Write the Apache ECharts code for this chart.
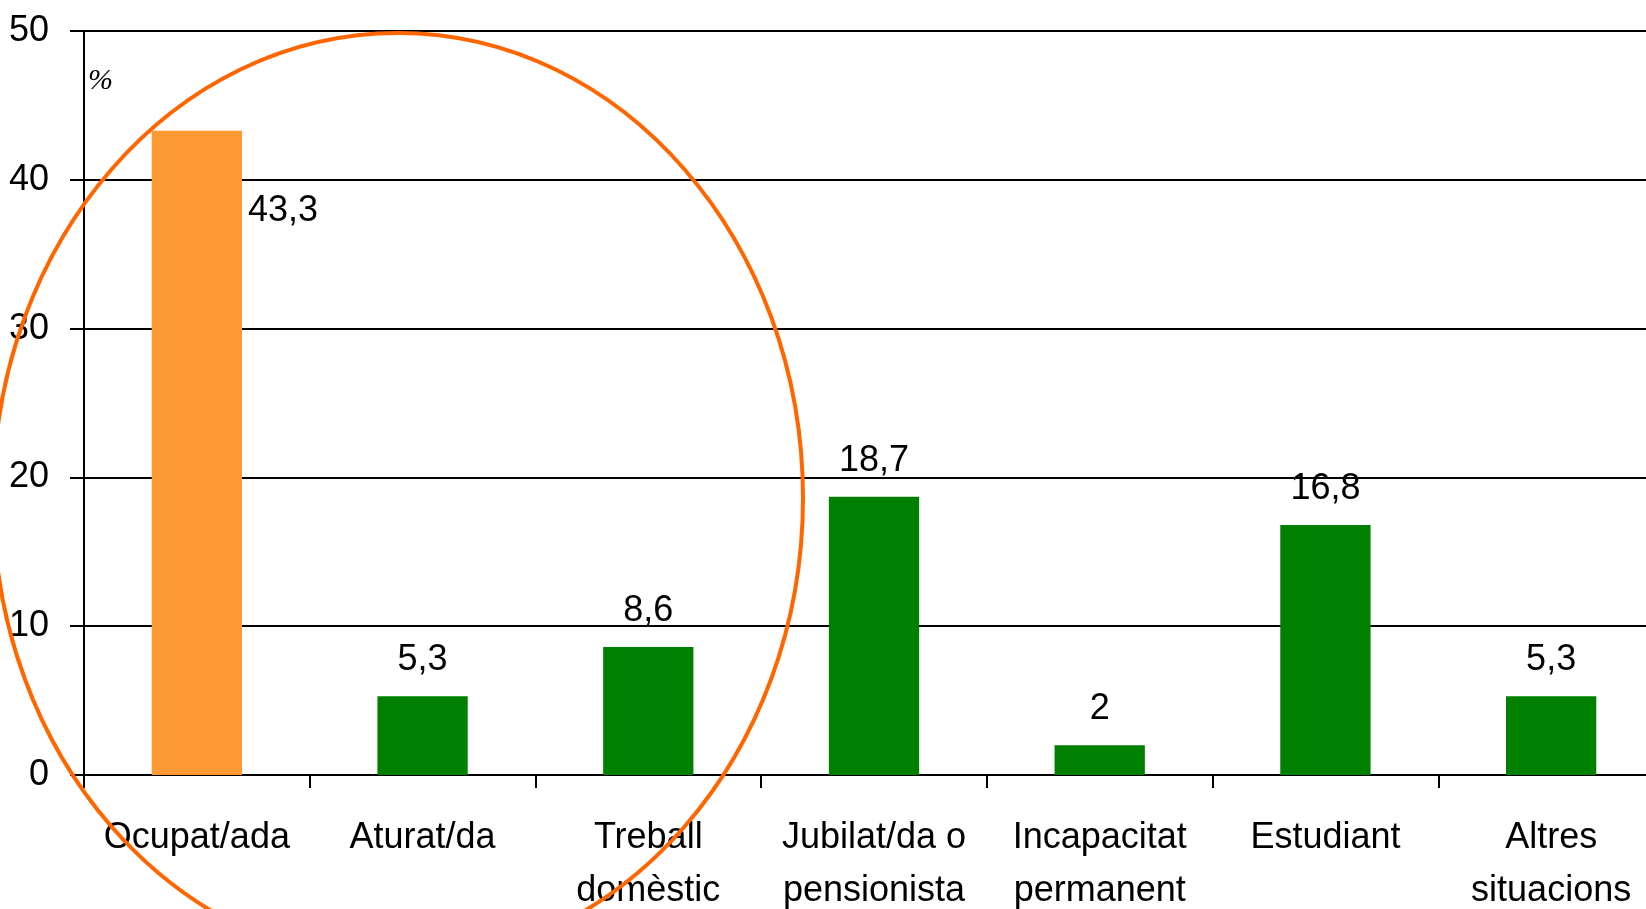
<!DOCTYPE html>
<html>
<head>
<meta charset="utf-8">
<script src="https://cdn.jsdelivr.net/npm/echarts@6/dist/echarts.min.js"></script>
<style>
  html, body { margin: 0; padding: 0; background: #fff; overflow: hidden; }
  #chart { width: 1646px; height: 909px; }
</style>
</head>
<body>
<div id="chart"></div>
<script>
  // situació laboral (%)
  var categories = [
    "Ocupat/ada",
    "Aturat/da",
    "Treball\ndomèstic",
    "Jubilat/da o\npensionista",
    "Incapacitat\npermanent",
    "Estudiant",
    "Altres\nsituacions"
  ];
  var values = [43.3, 5.3, 8.6, 18.7, 2, 16.8, 5.3];
  var yTicks = [0, 10, 20, 30, 40, 50];

  var font = "'Liberation Sans Narrow', 'Arial Narrow', 'Liberation Sans', Arial, sans-serif";

  function fmt(v) {
    return String(v).replace(".", ",");
  }

  var barData = values.map(function (v, i) {
    var item = { value: v, itemStyle: { color: "#008000" } };
    if (i === 0) {
      // barra destacada, etiqueta al costat
      item.itemStyle = { color: "#FF9933" };
      item.label = { position: ["100%", 62], offset: [6, 0], align: "left", verticalAlign: "top" };
    }
    return item;
  });

  var chart = echarts.init(document.getElementById("chart"));
  var option = {
    animation: false,
    backgroundColor: "#fff",
    // l'eix de categories continua més enllà de la vora dreta
    grid: { left: 84, top: 31, width: 1580, height: 744, containLabel: false, outerBoundsMode: "none" },
    xAxis: {
      type: "category",
      data: categories,
      axisLine: { lineStyle: { color: "#000", width: 2 } },
      axisTick: { show: true, length: 13, lineStyle: { color: "#000", width: 2 } },
      axisLabel: {
        interval: 0,
        color: "#000",
        fontFamily: font,
        fontSize: 36,
        lineHeight: 53,
        margin: 37
      },
      splitLine: { show: false }
    },
    yAxis: {
      type: "value",
      min: yTicks[0],
      max: yTicks[yTicks.length - 1],
      interval: 10,
      axisLine: { show: true, lineStyle: { color: "#000", width: 2 } },
      axisTick: { show: true, length: 14, lineStyle: { color: "#000", width: 2 } },
      axisLabel: { color: "#000", fontFamily: font, fontSize: 36, margin: 35 },
      splitLine: { lineStyle: { color: "#000", width: 2 } }
    },
    series: [{
      type: "bar",
      data: barData,
      barWidth: "40%",
      label: {
        show: true,
        position: "top",
        distance: 18,
        color: "#000",
        fontFamily: font,
        fontSize: 36,
        formatter: function (p) { return fmt(p.value); }
      }
    }],
    graphic: [
      {
        type: "text",
        left: 88,
        top: 66,
        style: {
          text: "%",
          fill: "#000",
          font: "italic 30px 'Liberation Serif', 'DejaVu Serif', serif"
        }
      },
      {
        type: "ellipse",
        z: 100,
        shape: { cx: 398, cy: 498, rx: 405, ry: 465 },
        style: { fill: "none", stroke: "#FF6600", lineWidth: 4 }
      }
    ]
  };
  chart.setOption(option);
</script>
</body>
</html>
